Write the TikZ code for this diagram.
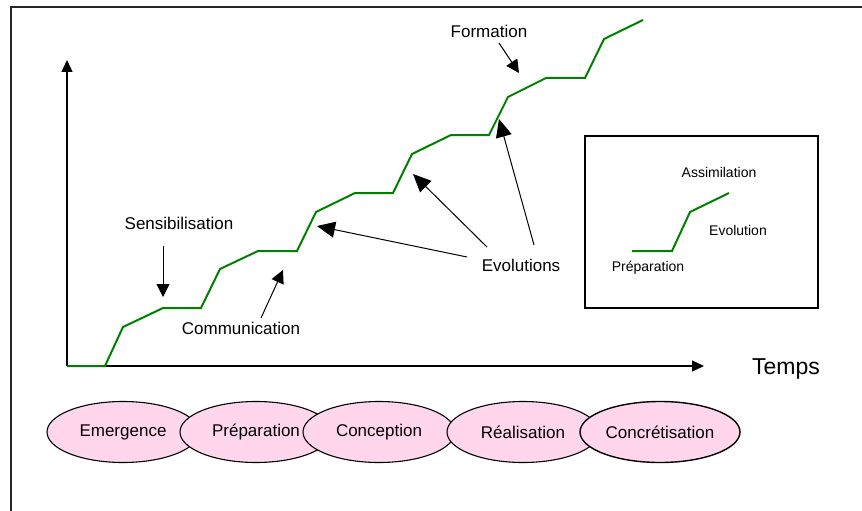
\documentclass[tikz,border=0pt]{standalone}
\usepackage{fontspec}
\setmainfont{Liberation Sans}
\usepackage{tikz}
\usetikzlibrary{arrows.meta, shapes.geometric}
\definecolor{stairgreen}{RGB}{0,128,0}
\definecolor{phasepink}{RGB}{255,214,236}
\tikzset{
  stair line/.style={
    line width=2pt,
    color=stairgreen,
    line join=miter
  },
  axis line/.style={
    -{Triangle[length=12pt, width=11pt]},
    line width=1.2pt
  },
  note arrow/.style={
    -{Triangle[length=13pt, width=13pt]},
    line width=1pt
  },
  evo arrow/.style={
    -{Triangle[length=18pt, width=16pt]},
    line width=1pt
  },
  note label/.style={
    font=\fontsize{17}{20}\selectfont
  },
  key label/.style={
    font=\fontsize{14}{17}\selectfont
  },
  phase/.style={
    ellipse,
    draw,
    fill=phasepink,
    line width=1.1pt,
    minimum width=152pt,
    minimum height=61pt,
    inner sep=0pt,
    font=\fontsize{17}{20}\selectfont
  }
}

\begin{document}
\begin{tikzpicture}[x=1pt, y=-1pt]

  %% ---- cadre ----
  \useasboundingbox (0,0) rectangle (862,511);
  \draw[line width=1.5pt, black!85] (11,511) -- (11,7) -- (862,7);

  %% ---- axes ----
  \coordinate (O)  at (67,366);
  \coordinate (Yt) at (67,60);
  \coordinate (Xt) at (704,366);
  \draw[axis line] (O) -- (Yt);
  \draw[axis line] (O) -- (Xt);
  \node[font=\fontsize{23}{27}\selectfont] (temps) at (786,369) {Temps};

  %% ---- escalier vert ----
  \draw[stair line]
      (67,366) -- (105,366) -- (123,327) -- (163,308)   % marche 1
   -- (201,308) -- (220,269) -- (258,251)                % marche 2
   -- (297,251) -- (316,212) -- (355,193)                % marche 3
   -- (393,193) -- (412,154) -- (451,135)                % marche 4
   -- (489,135) -- (508,97)  -- (546,78)                 % marche 5
   -- (585,78)  -- (604,39)  -- (643,20);                % marche 6

  %% ---- annotations ----
  \node[note label] (sens)  at (179,223) {Sensibilisation};
  \node[note label] (comm)  at (241,328) {Communication};
  \node[note label] (evo)   at (521,265) {Evolutions};
  \node[note label] (form)  at (489,31)  {Formation};

  % pointes des fleches
  \coordinate (sensS) at (163,246);  \coordinate (sensT) at (163,297);
  \coordinate (commS) at (261,318);  \coordinate (commT) at (283,270);
  \coordinate (evoS1) at (467,257);  \coordinate (evoT1) at (317,226);
  \coordinate (evoS2) at (487,247);  \coordinate (evoT2) at (413,174);
  \coordinate (evoS3) at (534,245);  \coordinate (evoT3) at (499,119);
  \coordinate (formS) at (499,43);   \coordinate (formT) at (519,73);

  \draw[note arrow] (sensS) -- (sensT);
  \draw[note arrow] (commS) -- (commT);
  \draw[evo arrow]  (evoS1) -- (evoT1);
  \draw[evo arrow]  (evoS2) -- (evoT2);
  \draw[evo arrow]  (evoS3) -- (evoT3);
  \draw[note arrow] (formS) -- (formT);

  %% ---- legende (encadre a droite) ----
  \draw[line width=1.2pt] (585,136) rectangle (818,308);
  \draw[stair line] (632,251) -- (672,251) -- (690,212) -- (729,193);
  \node[key label] (kAssim) at (719,172) {Assimilation};
  \node[key label] (kEvo)   at (738,230) {Evolution};
  \node[key label] (kPrep)  at (648,268) {Préparation};

  %% ---- phases du projet ----
  \node[phase] (emergence)      at (123,432) {Emergence};
  \node[phase] (preparation)    at (256,432) {Préparation};
  \node[phase] (conception)     at (379,432) {Conception};
  \node[phase] (realisation)    at (523,432) {Réalisation};
  \node[phase, minimum width=160pt, line width=1.4pt]
                                (concretisation) at (660,432) {Concrétisation};

\end{tikzpicture}
\end{document}
